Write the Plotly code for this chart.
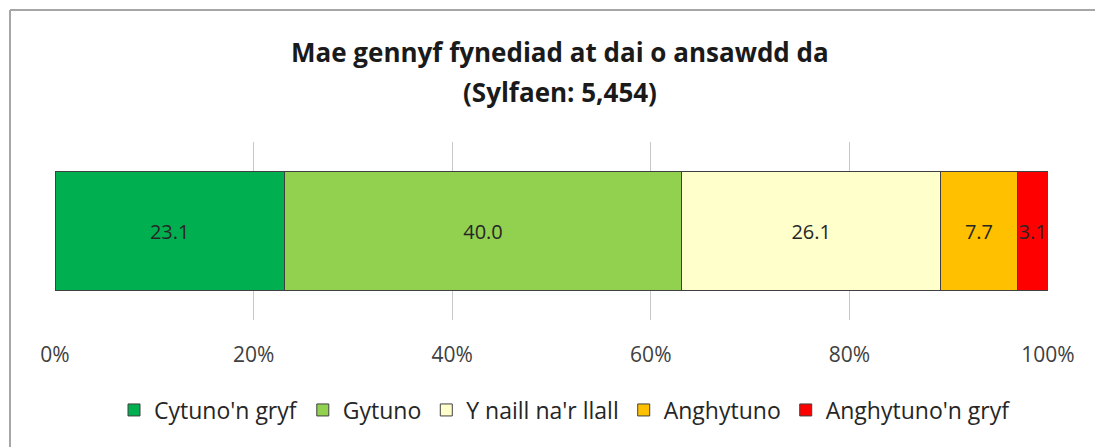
import plotly.graph_objects as go

categories = ["Cytuno'n gryf", "Gytuno", "Y naill na'r llall", "Anghytuno", "Anghytuno'n gryf"]
values = [23.1, 40.0, 26.1, 7.7, 3.1]
colors = ["#00B050", "#92D050", "#FFFFCC", "#FFC000", "#FF0000"]
tick_vals = [0, 20, 40, 60, 80, 100]
tick_text = ["0%", "20%", "40%", "60%", "80%", "100%"]
row = [""]
title_line1 = "Mae gennyf fynediad at dai o ansawdd da"
title_line2 = "(Sylfaen: 5,454)"

FONT = "Open Sans, sans-serif"

fig = go.Figure()
for name, v, c in zip(categories, values, colors):
    fig.add_trace(go.Bar(
        y=row, x=[v], name=name, orientation="h",
        marker=dict(color=c, line=dict(color="#404040", width=1)),
        text=[f"{v:.1f}"], textposition="inside", insidetextanchor="middle",
        textangle=0, constraintext="none", cliponaxis=False,
        textfont=dict(family=FONT, size=20, color="#262626"),
        hoverinfo="skip",
    ))

W, H = 1095, 447
L, R, T, B = 55, 47, 142, 127
pw, ph = W - L - R, H - T - B

fig.update_layout(
    width=W, height=H,
    barmode="stack", bargap=0.337,
    margin=dict(l=L, r=R, t=T, b=B, autoexpand=False),
    paper_bgcolor="white", plot_bgcolor="white",
    font=dict(family=FONT, size=20, color="#262626"),
    xaxis=dict(
        range=[0, 100], tickvals=tick_vals, ticktext=tick_text,
        showgrid=True, gridcolor="#C8C8C8", gridwidth=1,
        zeroline=False, showline=False, ticks="",
        ticklabelstandoff=20, automargin=False,
        tickfont=dict(family=FONT, size=21, color="#404040"),
    ),
    yaxis=dict(showticklabels=False, showgrid=False, zeroline=False, automargin=False),
    legend=dict(
        orientation="h", x=(565 - L) / pw, xanchor="center",
        y=(320 - 410) / ph, yanchor="middle",
        font=dict(family=FONT, size=23, color="#262626"),
        itemwidth=30, traceorder="normal",
    ),
    showlegend=True,
)

# two-line bold title
fig.add_annotation(text=f"<b>{title_line1}</b>", xref="paper", yref="paper",
                   x=(560 - L) / pw, y=(H - B - 52) / ph, xanchor="center", yanchor="middle",
                   showarrow=False, font=dict(family=FONT, size=26, color="#1a1a1a"))
fig.add_annotation(text=f"<b>{title_line2}</b>", xref="paper", yref="paper",
                   x=(560 - L) / pw, y=(H - B - 92) / ph, xanchor="center", yanchor="middle",
                   showarrow=False, font=dict(family=FONT, size=26, color="#1a1a1a"))

# chart frame (left and top border)
fig.add_shape(type="line", xref="paper", yref="paper",
              x0=(10 - L) / pw, x1=(W + 5 - L) / pw, y0=(H - 10 - B) / ph, y1=(H - 10 - B) / ph,
              line=dict(color="#A6A6A6", width=2))
fig.add_shape(type="line", xref="paper", yref="paper",
              x0=(10 - L) / pw, x1=(10 - L) / pw, y0=(-B - 5) / ph, y1=(H - 10 - B) / ph,
              line=dict(color="#A6A6A6", width=2))

fig.write_html("out.html", config={"displayModeBar": False},
               post_script="document.body.style.margin='0px';document.body.style.overflow='hidden';")
